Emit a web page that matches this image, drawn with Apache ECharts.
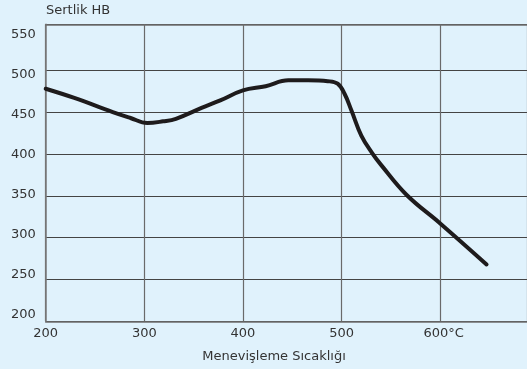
<!DOCTYPE html>
<html><head><meta charset="utf-8">
<script src="https://cdn.jsdelivr.net/npm/echarts@6/dist/echarts.min.js"></script>
<style>html,body{margin:0;padding:0;background:#e0f2fc}#c{width:527px;height:369px}</style>
</head><body><div id="c"></div>
<script>
// Tempering temperature (°C) and hardness (HB)
const temperatures = [200, 229, 268, 286, 303, 319, 332, 358, 377, 400, 423, 446, 466, 486, 496, 503, 510, 520, 531, 540, 566, 600, 647];
const hardness     = [478, 467, 450, 443, 437, 439, 442, 455, 464, 476, 481, 488, 488, 487, 484, 472, 452, 422, 401, 387, 351, 317, 268];

const xTickValues = [200, 300, 400, 500, 600];
const xTickLabels = ['200', '300', '400', '500', '600°C'];
const yTickValues = [200, 250, 300, 350, 400, 450, 500, 550];
const yTitle = 'Sertlik HB';
const xTitle = 'Menevişleme Sıcaklığı';

const FONT = 'DejaVu Sans';
const TXT = '#333333';

const chart = echarts.init(document.getElementById('c'), null, {renderer: 'canvas'});
chart.setOption({
  backgroundColor: '#e0f2fc',
  animation: false,
  grid: [
    {left: 45.7, right: 0, top: 24.3, bottom: 47.7},
    {left: 45.7, right: 0, top: 35, bottom: 54}
  ],
  xAxis: [
    {
      type: 'value', gridIndex: 0, min: 200, max: 688, interval: 100,
      axisLine: {show: true, lineStyle: {color: '#6e6e6e', width: 1.5}},
      axisTick: {show: false},
      splitLine: {show: true, lineStyle: {color: '#6a6a6a', width: 1.2}},
      axisLabel: {
        show: true, margin: 6, fontFamily: FONT, fontSize: 13, color: TXT,
        showMaxLabel: false,
        formatter: function (v) {
          const i = xTickValues.indexOf(v);
          if (i < 0) return '';
          if (i === xTickValues.length - 1) return '{u|' + xTickLabels[i] + '}';
          return xTickLabels[i];
        },
        rich: {u: {fontFamily: FONT, fontSize: 13, color: TXT, padding: [0, 0, 0, 7]}}
      }
    },
    {
      type: 'value', gridIndex: 0, position: 'top', min: 200, max: 688, interval: 100,
      axisLine: {show: true, lineStyle: {color: '#6e6e6e', width: 1.5}},
      axisTick: {show: false}, axisLabel: {show: false}, splitLine: {show: false}
    },
    {
      type: 'value', gridIndex: 1, min: 200, max: 688, show: false
    }
  ],
  yAxis: [
    {
      type: 'value', gridIndex: 0, min: 200, max: 555, interval: 50,
      axisLine: {show: true, lineStyle: {color: '#7a7a7a', width: 1.5}},
      axisTick: {show: false}, axisLabel: {show: false},
      splitLine: {show: true, lineStyle: {
        color: ['#444', '#444', '#444', '#444', '#444', '#444', '#444', 'rgba(0,0,0,0)', '#444'],
        width: 1
      }}
    },
    {
      type: 'value', gridIndex: 1, min: 200, max: 550, interval: 50,
      axisLine: {show: false}, axisTick: {show: false}, splitLine: {show: false},
      axisLabel: {
        show: true, margin: 10, fontFamily: FONT, fontSize: 13, color: TXT,
        formatter: function (v) { return yTickValues.indexOf(v) >= 0 ? String(v) : ''; }
      }
    }
  ],
  series: [{
    type: 'line', xAxisIndex: 0, yAxisIndex: 0,
    data: temperatures.map((t, i) => [t, hardness[i]]),
    smooth: 0.4, showSymbol: false, symbol: 'none',
    lineStyle: {color: '#1e1b1c', width: 4, cap: 'round'}
  }],
  graphic: [
    {type: 'text', x: 46, y: 11, style: {text: yTitle, fontFamily: FONT, fontSize: 13, fill: TXT, align: 'left', verticalAlign: 'middle'}},
    {type: 'text', x: 274, y: 357, style: {text: xTitle, fontFamily: FONT, fontSize: 13, fill: TXT, align: 'center', verticalAlign: 'middle'}}
  ]
});
</script>
</body></html>
